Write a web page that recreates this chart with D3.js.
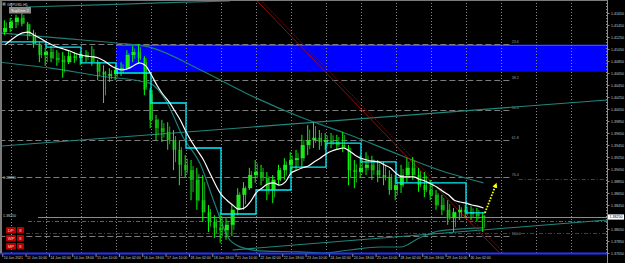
<!DOCTYPE html>
<html>
<head>
<meta charset="utf-8">
<script src="https://cdn.jsdelivr.net/npm/d3@7"></script>
<style>
  body { margin: 0; background: #000; overflow: hidden; }
  svg { display: block; }
  text { font-family: "Liberation Sans", Arial, sans-serif; }
</style>
</head>
<body>
<svg></svg>
<script>
// ---- data (H1 bars grouped in 4 hour blocks) ----
const firstBlockBar = -6; // bar 0 = 11 Jun 00:00
const firstOpen = 1.4133;
const highs = [
  1.4153, 1.4157, 1.4162, 1.4165, 1.4150, 1.4137, 1.4117, 1.4107, 1.4110, 1.4103,
  1.4100, 1.4103, 1.4100, 1.4100, 1.4103, 1.4110, 1.4087, 1.4078, 1.4073, 1.4077,
  1.4083, 1.4103, 1.4110, 1.4113, 1.4093, 1.4040, 1.3995, 1.3987, 1.3983, 1.3970,
  1.3953, 1.3928, 1.3920, 1.3907, 1.3895, 1.3845, 1.3828, 1.3833, 1.3823, 1.3845,
  1.3873, 1.3883, 1.3907, 1.3920, 1.3912, 1.3900, 1.3895, 1.3912, 1.3923, 1.3933,
  1.3937, 1.3962, 1.3978, 1.3983, 1.3970, 1.3965, 1.3965, 1.3962, 1.3967, 1.3945,
  1.3920, 1.3928, 1.3933, 1.3927, 1.3920, 1.3917, 1.3903, 1.3895, 1.3912, 1.3923,
  1.3925, 1.3907, 1.3900, 1.3887, 1.3870, 1.3862, 1.3853, 1.3840, 1.3845, 1.3845,
  1.3843, 1.3840, 1.3833
];
const lows = [
  1.4128, 1.4133, 1.4140, 1.4143, 1.4120, 1.4107, 1.4083, 1.4077, 1.4083, 1.4077,
  1.4057, 1.4080, 1.4082, 1.4078, 1.4083, 1.4077, 1.4053, 1.4015, 1.4050, 1.4053,
  1.4060, 1.4070, 1.4083, 1.4080, 1.4028, 1.3973, 1.3953, 1.3950, 1.3937, 1.3903,
  1.3878, 1.3890, 1.3853, 1.3837, 1.3817, 1.3800, 1.3790, 1.3782, 1.3787, 1.3793,
  1.3828, 1.3837, 1.3870, 1.3882, 1.3878, 1.3853, 1.3848, 1.3878, 1.3887, 1.3895,
  1.3903, 1.3907, 1.3928, 1.3940, 1.3937, 1.3937, 1.3940, 1.3937, 1.3933, 1.3878,
  1.3873, 1.3890, 1.3895, 1.3887, 1.3883, 1.3878, 1.3862, 1.3853, 1.3865, 1.3883,
  1.3887, 1.3867, 1.3858, 1.3853, 1.3837, 1.3828, 1.3812, 1.3800, 1.3820, 1.3823,
  1.3820, 1.3817, 1.3800
];
const closes = [
  1.4140, 1.4150, 1.4157, 1.4147, 1.4128, 1.4112, 1.4095, 1.4100, 1.4090, 1.4087,
  1.4083, 1.4093, 1.4090, 1.4095, 1.4093, 1.4083, 1.4067, 1.4062, 1.4063, 1.4070,
  1.4073, 1.4095, 1.4100, 1.4090, 1.4037, 1.3987, 1.3973, 1.3967, 1.3953, 1.3937,
  1.3912, 1.3903, 1.3887, 1.3853, 1.3833, 1.3817, 1.3807, 1.3803, 1.3812, 1.3837,
  1.3862, 1.3873, 1.3895, 1.3900, 1.3890, 1.3870, 1.3887, 1.3903, 1.3912, 1.3920,
  1.3923, 1.3945, 1.3953, 1.3957, 1.3950, 1.3953, 1.3950, 1.3945, 1.3940, 1.3903,
  1.3900, 1.3907, 1.3912, 1.3903, 1.3895, 1.3890, 1.3870, 1.3878, 1.3895, 1.3907,
  1.3895, 1.3878, 1.3870, 1.3862, 1.3845, 1.3837, 1.3823, 1.3833, 1.3837, 1.3833,
  1.3830, 1.3827, 1.3825
];
// white moving average, one value per block
const maValues = [
  1.4112, 1.4120, 1.4127, 1.4132, 1.4133, 1.4128, 1.4123, 1.4117, 1.4112, 1.4108,
  1.4105, 1.4102, 1.4098, 1.4095, 1.4093, 1.4092, 1.4090, 1.4085, 1.4078, 1.4073,
  1.4070, 1.4072, 1.4077, 1.4082, 1.4078, 1.4063, 1.4045, 1.4030, 1.4018, 1.4003,
  1.3987, 1.3967, 1.3950, 1.3935, 1.3920, 1.3900, 1.3880, 1.3863, 1.3853, 1.3845,
  1.3838, 1.3840, 1.3850, 1.3865, 1.3873, 1.3880, 1.3882, 1.3878, 1.3883, 1.3898,
  1.3903, 1.3907, 1.3910, 1.3917, 1.3923, 1.3930, 1.3935, 1.3938, 1.3940, 1.3935,
  1.3928, 1.3923, 1.3920, 1.3918, 1.3917, 1.3912, 1.3907, 1.3898, 1.3892, 1.3892,
  1.3892, 1.3888, 1.3885, 1.3880, 1.3875, 1.3868, 1.3862, 1.3853, 1.3850, 1.3848,
  1.3845, 1.3843, 1.3840
];
// cyan daily step level
const dayStartBars = [-8, 0, 24, 48, 72, 96, 120, 144, 168, 192, 216, 240, 264, 288, 312];
const dayLevels = [1.4117, 1.4117, 1.4108, 1.4082, 1.4065, 1.4015, 1.3940, 1.3830, 1.3870, 1.3908, 1.3948, 1.3917, 1.3882, 1.3882, 1.3832];
const lastBar = 325;

// teal indicator curves, [bar, price]
const tealTop = [[10, 1.4175], [54, 1.4178], [102, 1.4182], [150, 1.4185]];
const tealMid = [[-8, 1.4132], [34, 1.4123], [72, 1.4115], [95, 1.4108], [130, 1.4070], [164, 1.4028],
  [198, 1.3992], [232, 1.3962], [267, 1.3928], [294, 1.3903], [324, 1.3882]];
const tealLow = [[-8, 1.4083], [27, 1.4073], [61, 1.4060], [95, 1.4048], [106, 1.4020], [118, 1.3958],
  [130, 1.3912], [140, 1.3845], [150, 1.3787], [160, 1.3773], [174, 1.3768], [198, 1.3767],
  [214, 1.3765], [232, 1.3770], [253, 1.3775], [267, 1.3775], [280, 1.3790], [294, 1.3802], [324, 1.3807]];
// trend lines
const trendUpper = [[-8, 1.3943], [409, 1.4020]];
const trendLower = [[152, 1.3770], [409, 1.3820]];
const redLineA = [[168, 1.4187], [335, 1.3765]];
const redLineB = [[171, 1.4187], [338, 1.3765]];

// supply zone
const zoneStartBar = 72;
const zoneTop = 1.4112;
const zoneBottom = 1.4067;

// fibonacci (0 level lies above the window)
const fibHigh = 1.4213;
const fibLow = 1.3793;
const fibStartBar = -8;
const fibEndBar = 342;
const fibLevels = [23.6, 38.2, 50, 61.8, 76.4, 100];

// horizontal lines
const currentPrice = 1.3825;
const greenLevel = 1.3818;
const redLevels = [1.3888, 1.3798];
const bottomLine = 1.3765;

// projected move arrow
const arrowFrom = [325, 1.3832];
const arrowTo = [333, 1.3882];

// axis
const priceTicks = d3.range(21).map(i => 1.3765 + i * 0.002);
const xLabels = ["10 Jun 2021", "11 Jun 10:00", "14 Jun 02:00", "14 Jun 18:00", "15 Jun 10:00",
  "16 Jun 02:00", "16 Jun 18:00", "17 Jun 10:00", "18 Jun 02:00", "18 Jun 18:00", "21 Jun 10:00",
  "22 Jun 02:00", "22 Jun 18:00", "23 Jun 10:00", "24 Jun 02:00", "24 Jun 18:00", "25 Jun 10:00",
  "28 Jun 02:00", "28 Jun 18:00", "29 Jun 10:00", "30 Jun 02:00"];
const xLabelBars = [-6, 10, 26, 42, 58, 74, 90, 106, 122, 138, 154, 170, 186, 202, 218, 234, 250, 266, 282, 298, 314];
const panelRows = ["DP", "WP", "MP"];
const panelValue = "8";

// ---- drawing ----
const W = 625, H = 263;
const plotRight = 607, plotBottom = 253;

const svg = d3.select("svg")
  .attr("width", W)
  .attr("height", H)
  .style("background-color", "#000");

const x = d3.scaleLinear().domain([0, 24]).range([11, 46]);
const y = d3.scaleLinear().domain([1.3765, 1.4165]).range([253, 13]);

svg.append("defs").append("clipPath").attr("id", "clip")
  .append("rect").attr("x", 2).attr("y", 1).attr("width", plotRight - 2).attr("height", plotBottom - 1);

const plot = svg.append("g").attr("clip-path", "url(#clip)");

// supply zone box
plot.append("rect")
  .attr("x", x(zoneStartBar))
  .attr("y", y(zoneTop))
  .attr("width", plotRight - x(zoneStartBar))
  .attr("height", y(zoneBottom) - y(zoneTop))
  .attr("fill", "#0000ff");
plot.append("line")
  .attr("x1", x(zoneStartBar)).attr("x2", plotRight)
  .attr("y1", y(zoneTop) + 0.5).attr("y2", y(zoneTop) + 0.5)
  .attr("stroke", "#4a5cff");

// day grid
plot.selectAll("line.grid")
  .data(d3.range(0, 420, 24))
  .join("line")
  .attr("class", "grid")
  .attr("x1", d => Math.round(x(d)) + 0.5)
  .attr("x2", d => Math.round(x(d)) + 0.5)
  .attr("y1", 0).attr("y2", plotBottom)
  .attr("stroke", "#8a8a8a")
  .attr("stroke-dasharray", "1 2");

// fibonacci levels
const fibPrice = lvl => fibHigh - (fibHigh - fibLow) * lvl / 100;
plot.selectAll("line.fib")
  .data(fibLevels)
  .join("line")
  .attr("class", "fib")
  .attr("x1", x(fibStartBar)).attr("x2", x(fibEndBar))
  .attr("y1", d => Math.round(y(fibPrice(d))) + 0.5)
  .attr("y2", d => Math.round(y(fibPrice(d))) + 0.5)
  .attr("stroke", "#7c7c7c")
  .attr("stroke-dasharray", "6 3");
plot.selectAll("text.fib")
  .data(fibLevels)
  .join("text")
  .attr("class", "fib")
  .attr("x", x(fibEndBar) + 2)
  .attr("y", d => y(fibPrice(d)) - 1)
  .attr("fill", "#9a9a9a")
  .attr("font-size", 3.6)
  .text(d => d.toFixed(1));

// horizontal levels
const hline = (price, color, dash, fromX) =>
  plot.append("line")
    .attr("x1", fromX).attr("x2", plotRight)
    .attr("y1", Math.round(y(price)) + 0.5).attr("y2", Math.round(y(price)) + 0.5)
    .attr("stroke", color)
    .attr("stroke-dasharray", dash);

hline(redLevels[0], "#a01818", "4 2 1 2", x(fibEndBar) + 9);
hline(redLevels[1], "#a01818", "4 2 1 2", 26);
hline(greenLevel, "#0a9a0a", "4 2 1 2", 28);
hline(currentPrice, "#8c8c8c", null, 38);

// teal curves and lines
const priceLine = d3.line().x(d => x(d[0])).y(d => y(d[1]));
const smooth = d3.line().x(d => x(d[0])).y(d => y(d[1])).curve(d3.curveMonotoneX);
[tealTop, tealMid, tealLow].forEach(pts =>
  plot.append("path").attr("d", smooth(pts))
    .attr("fill", "none").attr("stroke", "#1f7d74").attr("stroke-width", 1.2));
[trendUpper, trendLower].forEach(pts =>
  plot.append("path").attr("d", priceLine(pts))
    .attr("fill", "none").attr("stroke", "#22877e").attr("stroke-width", 1.1));

// red trend lines
plot.append("path").attr("d", priceLine(redLineA))
  .attr("fill", "none").attr("stroke", "#a00d0d").attr("stroke-width", 0.9);
plot.append("path").attr("d", priceLine(redLineB))
  .attr("fill", "none").attr("stroke", "#8a0c0c").attr("stroke-width", 0.8)
  .attr("stroke-dasharray", "2 1");

// candles
const blocks = closes.map((c, k) => ({
  bar: firstBlockBar + 4 * k + 2,
  open: k === 0 ? firstOpen : closes[k - 1],
  high: highs[k],
  low: lows[k],
  close: c
}));

const candle = plot.selectAll("g.candle")
  .data(blocks)
  .join("g")
  .attr("class", "candle");
candle.append("rect")
  .attr("x", d => x(d.bar) - 2)
  .attr("width", 4)
  .attr("y", d => y(Math.max(d.open, d.close)))
  .attr("height", d => Math.max(1.5, Math.abs(y(d.open) - y(d.close))))
  .attr("fill", d => (d.close >= d.open ? "#22e622" : "#0b7a0b"));
candle.append("line")
  .attr("x1", d => x(d.bar) - 0.8).attr("x2", d => x(d.bar) - 0.8)
  .attr("y1", d => y(d.high)).attr("y2", d => y(d.low))
  .attr("stroke", "#00ff00").attr("stroke-width", 1);
candle.append("line")
  .attr("x1", d => x(d.bar) + 1.2).attr("x2", d => x(d.bar) + 1.2)
  .attr("y1", d => y(d.high) + (y(d.low) - y(d.high)) * 0.15)
  .attr("y2", d => y(d.low) - (y(d.low) - y(d.high)) * 0.2)
  .attr("stroke", "#3cc83c").attr("stroke-width", 0.8);

// cyan daily steps
const stepPts = dayStartBars.map((b, i) => [b, dayLevels[i]]);
stepPts.push([lastBar, dayLevels[dayLevels.length - 1]]);
plot.append("path")
  .attr("d", d3.line().x(d => x(d[0])).y(d => y(d[1])).curve(d3.curveStepAfter)(stepPts))
  .attr("fill", "none").attr("stroke", "#00f0ff").attr("stroke-width", 1.3);

// white MA
plot.append("path")
  .attr("d", smooth(blocks.map((d, k) => [d.bar, maValues[k]])))
  .attr("fill", "none").attr("stroke", "#ffffff").attr("stroke-width", 1.2);

// yellow dotted arrow
const ax1 = x(arrowFrom[0]), ay1 = y(arrowFrom[1]);
const ax2 = x(arrowTo[0]), ay2 = y(arrowTo[1]);
const ang = Math.atan2(ay2 - ay1, ax2 - ax1);
plot.append("line")
  .attr("x1", ax1).attr("y1", ay1)
  .attr("x2", ax2 - 3 * Math.cos(ang)).attr("y2", ay2 - 3 * Math.sin(ang))
  .attr("stroke", "#ffff00").attr("stroke-width", 1.8)
  .attr("stroke-dasharray", "1.6 1.4");
const head = [
  [ax2, ay2],
  [ax2 - 5 * Math.cos(ang) + 2.5 * Math.sin(ang), ay2 - 5 * Math.sin(ang) - 2.5 * Math.cos(ang)],
  [ax2 - 5 * Math.cos(ang) - 2.5 * Math.sin(ang), ay2 - 5 * Math.sin(ang) + 2.5 * Math.cos(ang)]
];
plot.append("polygon").attr("points", head.map(p => p.join(",")).join(" ")).attr("fill", "#ffff00");

// blue bottom line
svg.append("line")
  .attr("x1", 0).attr("x2", plotRight + 1)
  .attr("y1", y(bottomLine) + 0.5).attr("y2", y(bottomLine) + 0.5)
  .attr("stroke", "#2035ff").attr("stroke-width", 2);

// frame
svg.append("line").attr("x1", 1).attr("x2", 1).attr("y1", 0).attr("y2", plotBottom)
  .attr("stroke", "#7a7a7a").attr("stroke-width", 2);
svg.append("line").attr("x1", 0).attr("x2", plotRight).attr("y1", 0.5).attr("y2", 0.5)
  .attr("stroke", "#7a7a7a");

// right price axis
const yAxis = svg.append("g")
  .attr("transform", `translate(${plotRight + 0.5},0)`)
  .call(d3.axisRight(y).tickValues(priceTicks).tickSize(2).tickFormat(d3.format(".5f")));
yAxis.select(".domain").attr("stroke", "#8c8c8c").attr("d", `M0,0V${H}`);
yAxis.selectAll(".tick line").attr("stroke", "#8c8c8c");
yAxis.selectAll(".tick text")
  .attr("x", 3.5)
  .attr("fill", "#c8c8c8")
  .attr("font-size", 3.6)
  .attr("font-family", "Liberation Sans, Arial, sans-serif");

// current price tag
svg.append("rect")
  .attr("x", plotRight + 1).attr("y", y(currentPrice) - 2.6)
  .attr("width", 16).attr("height", 5.2)
  .attr("fill", "#ffffff");
svg.append("text")
  .attr("x", plotRight + 2.5).attr("y", y(currentPrice) + 1.3)
  .attr("fill", "#000").attr("font-size", 3.6)
  .text(d3.format(".5f")(currentPrice));

// time axis
const xAxis = svg.append("g");
xAxis.selectAll("line")
  .data(xLabelBars)
  .join("line")
  .attr("x1", d => Math.max(2, x(d)) + 0.5).attr("x2", d => Math.max(2, x(d)) + 0.5)
  .attr("y1", plotBottom + 1).attr("y2", plotBottom + 4)
  .attr("stroke", "#8c8c8c");
xAxis.selectAll("text")
  .data(xLabels)
  .join("text")
  .attr("x", (d, i) => Math.max(2, x(xLabelBars[i])) + 1.5)
  .attr("y", plotBottom + 6)
  .attr("fill", "#c8c8c8")
  .attr("font-size", 3.5)
  .text(d => d);

// left line labels
[redLevels[0], currentPrice].forEach(p =>
  svg.append("text")
    .attr("x", 3).attr("y", y(p) - 0.5)
    .attr("fill", "#d0d0d0").attr("font-size", 3.6)
    .text(d3.format(".5f")(p)));

// indicator panel
const panel = svg.append("g").selectAll("g")
  .data(panelRows)
  .join("g")
  .attr("transform", (d, i) => `translate(6,${227 + i * 8})`);
panel.append("rect").attr("width", 10).attr("height", 6.5).attr("fill", "#b40000").attr("rx", 0.8);
panel.append("rect").attr("x", 11).attr("width", 7).attr("height", 6.5).attr("fill", "#b40000").attr("rx", 0.8);
panel.append("text").attr("x", 1.8).attr("y", 4.8).attr("fill", "#ffd0d0").attr("font-size", 4.2).text(d => d);
panel.append("text").attr("x", 13.2).attr("y", 4.8).attr("fill", "#ffd0d0").attr("font-size", 4.2).text(panelValue);

// title and indicator button
svg.append("rect").attr("x", 2.5).attr("y", 2.5).attr("width", 3).attr("height", 3).attr("fill", "#6a8a6a");
svg.append("text").attr("x", 7).attr("y", 5.6).attr("fill", "#d8d8d8").attr("font-size", 3.6).text("GBPUSD,H1");
svg.append("rect").attr("x", 9).attr("y", 7).attr("width", 22).attr("height", 6.5).attr("fill", "#8a8a8a");
svg.append("text").attr("x", 11).attr("y", 11.6).attr("fill", "#e8e8e8").attr("font-size", 3.8).text("SupDem 2");
</script>
</body>
</html>
